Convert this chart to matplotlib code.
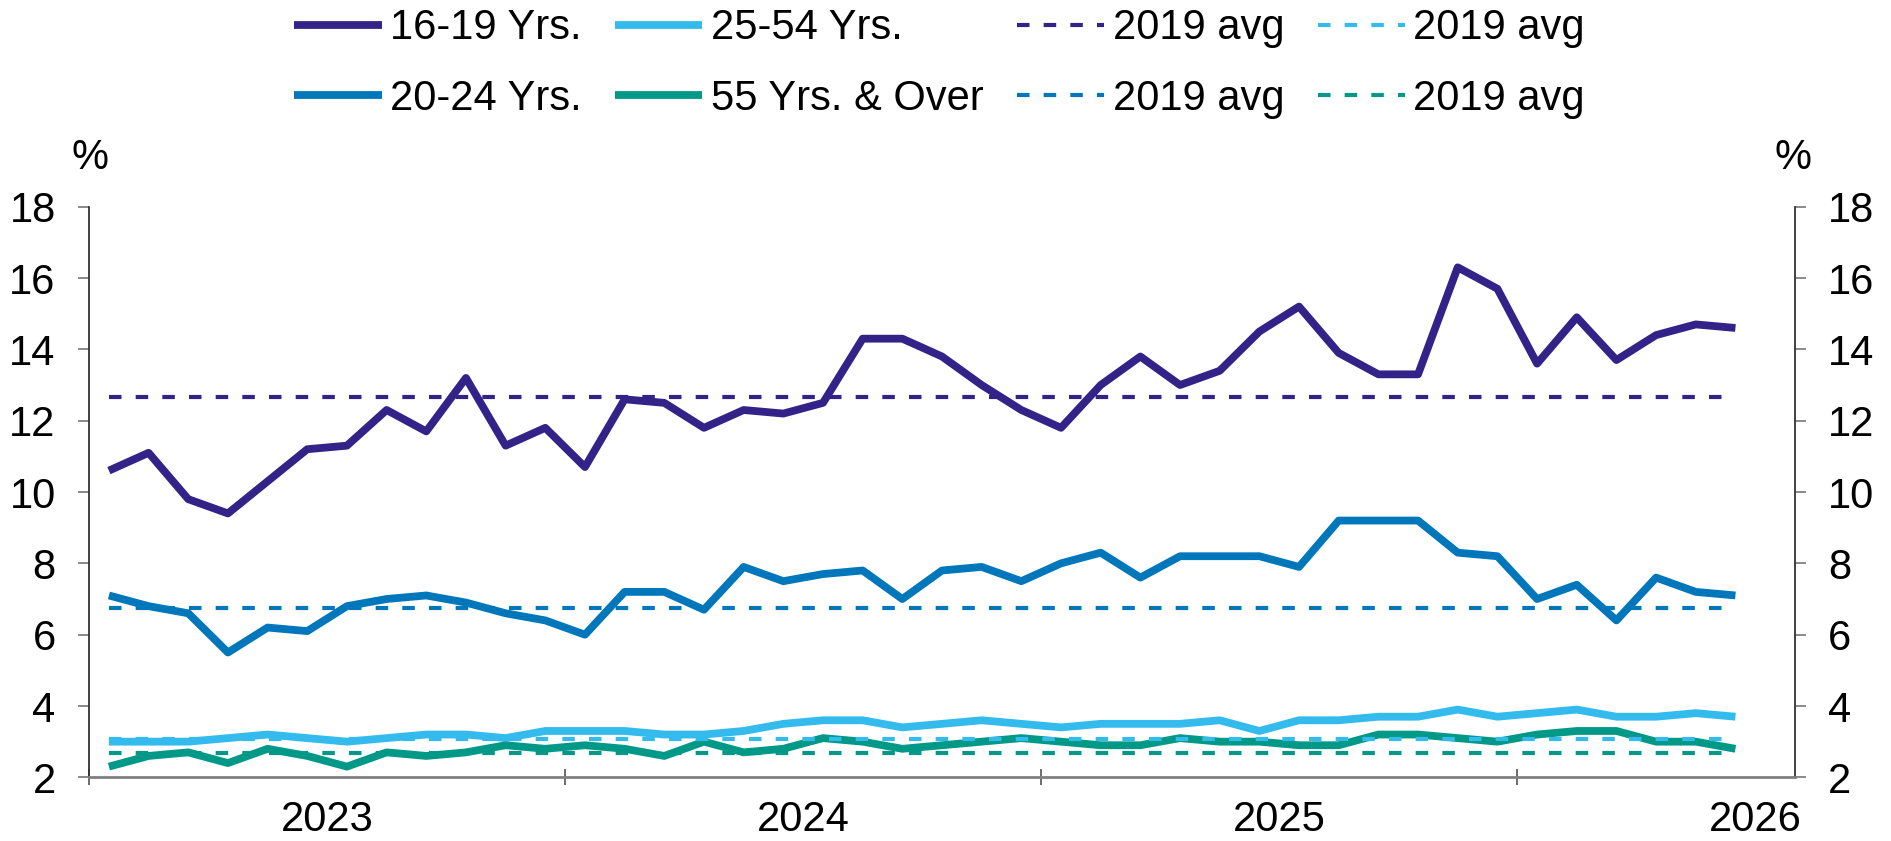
import matplotlib
matplotlib.use('Agg')
import matplotlib.pyplot as plt
import numpy as np

plt.rcParams['font.family'] = ['Liberation Sans', 'DejaVu Sans']

# unemployment rate by age group, monthly, %
y1619 = [10.6, 11.1, 9.8, 9.4, 10.3, 11.2, 11.3, 12.3, 11.7, 13.2,
         11.3, 11.8, 10.7, 12.6, 12.5, 11.8, 12.3, 12.2, 12.5, 14.3,
         14.3, 13.8, 13.0, 12.3, 11.8, 13.0, 13.8, 13.0, 13.4, 14.5,
         15.2, 13.9, 13.3, 13.3, 16.3, 15.7, 13.6, 14.9, 13.7, 14.4,
         14.7, 14.6]
y2024 = [7.1, 6.8, 6.6, 5.5, 6.2, 6.1, 6.8, 7.0, 7.1, 6.9,
         6.6, 6.4, 6.0, 7.2, 7.2, 6.7, 7.9, 7.5, 7.7, 7.8,
         7.0, 7.8, 7.9, 7.5, 8.0, 8.3, 7.6, 8.2, 8.2, 8.2,
         7.9, 9.2, 9.2, 9.2, 8.3, 8.2, 7.0, 7.4, 6.4, 7.6,
         7.2, 7.1]
y2554 = [3.0, 3.0, 3.0, 3.1, 3.2, 3.1, 3.0, 3.1, 3.2, 3.2,
         3.1, 3.3, 3.3, 3.3, 3.2, 3.2, 3.3, 3.5, 3.6, 3.6,
         3.4, 3.5, 3.6, 3.5, 3.4, 3.5, 3.5, 3.5, 3.6, 3.3,
         3.6, 3.6, 3.7, 3.7, 3.9, 3.7, 3.8, 3.9, 3.7, 3.7,
         3.8, 3.7]
y55 = [2.3, 2.6, 2.7, 2.4, 2.8, 2.6, 2.3, 2.7, 2.6, 2.7,
       2.9, 2.8, 2.9, 2.8, 2.6, 3.0, 2.7, 2.8, 3.1, 3.0,
       2.8, 2.9, 3.0, 3.1, 3.0, 2.9, 2.9, 3.1, 3.0, 3.0,
       2.9, 2.9, 3.2, 3.2, 3.1, 3.0, 3.2, 3.3, 3.3, 3.0,
       3.0, 2.8]

# 2019 averages
avg2019 = [12.66, 6.74, 3.08, 2.69]

names = ['16-19 Yrs.', '20-24 Yrs.', '25-54 Yrs.', '55 Yrs. & Over']
colors = ['#332288', '#0077BB', '#33BBEE', '#009988']
years = ['2023', '2024', '2025', '2026']

fs = 30
fig = plt.figure(figsize=(18.91, 8.41), dpi=100)
ax = fig.add_axes([0.0471, 0.0757, 0.9021, 0.6785])

x = np.arange(len(y1619))
solid = []
for vals, col, lab in zip([y1619, y2024, y2554, y55], colors, names):
    h, = ax.plot(x, vals, color=col, lw=5.6, label=lab,
                 solid_joinstyle='round', solid_capstyle='butt')
    solid.append(h)
dashed = []
for avg, col in zip(avg2019, colors):
    h, = ax.plot(x, np.full(len(x), avg), color=col, lw=3.0,
                 dashes=(3.0, 3.4), label='2019 avg')
    dashed.append(h)

ax.set_ylim(2, 18)
ax.set_yticks(range(2, 19, 2))
ax.set_xlim(-0.5, 42.5)
ax.set_xticks([-0.5, 11.5, 23.5, 35.5])
ax.set_xticklabels([])
ax.set_xticks([5.5, 17.5, 29.5, 41.5], minor=True)
ax.set_xticklabels(years, minor=True)

ax.tick_params(axis='y', direction='out', length=8, width=1.3, color='#808080',
               labelsize=fs, pad=16, left=True, right=True, labelright=True)
ax.tick_params(axis='x', which='major', direction='inout', length=12, width=1.3,
               color='#606060')
ax.tick_params(axis='x', which='minor', length=0, labelsize=fs, pad=16)

ax.spines['top'].set_visible(False)
for s in ['left', 'right']:
    ax.spines[s].set_color('#333333')
    ax.spines[s].set_linewidth(1.3)
ax.spines['bottom'].set_color('#808080')
ax.spines['bottom'].set_linewidth(2)

fig.text(90 / 1891, 1 - 158 / 841, '%', ha='center', va='center', fontsize=fs)
fig.text(1793 / 1891, 1 - 158 / 841, '%', ha='center', va='center', fontsize=fs)

fig.legend(handles=solid + dashed, ncol=4, loc='upper left',
           bbox_to_anchor=(290 / 1891, 1 - 4 / 841), frameon=False, fontsize=fs,
           handlelength=2.1, handletextpad=0.2, columnspacing=0.8,
           labelspacing=0.73, borderpad=0.1, borderaxespad=0)

fig.savefig('out.png', dpi=100)
